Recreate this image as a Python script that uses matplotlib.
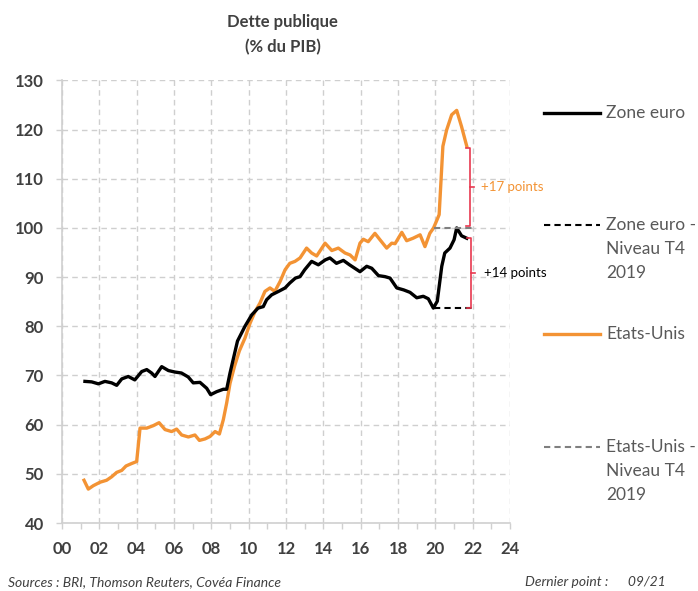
import matplotlib.pyplot as plt
from matplotlib.lines import Line2D
from matplotlib.ticker import MultipleLocator

plt.rcParams['font.family'] = ['Lato', 'DejaVu Sans']

# années (00 = 2000), lecture approx. du graphique
ez_t = [1.23, 1.59, 1.95, 2.3, 2.66, 2.93, 3.2, 3.55, 3.9, 4.27, 4.54, 4.8, 4.98,
        5.34, 5.7, 6.05, 6.4, 6.76, 7.03, 7.39, 7.75, 7.96, 8.28, 8.64, 8.82, 9.0,
        9.4, 9.8, 10.16, 10.5, 10.78, 10.96, 11.23, 11.6, 11.95, 12.2, 12.5, 12.75,
        13.0, 13.37, 13.73, 14.1, 14.35, 14.7, 15.07, 15.4, 15.96, 16.32, 16.59,
        16.95, 17.3, 17.57, 17.93, 18.3, 18.64, 19.0, 19.35, 19.62, 19.89, 20.1,
        20.34, 20.5, 20.78, 21.0, 21.14, 21.4, 21.68]
ez_v = [68.8, 68.7, 68.3, 68.8, 68.5, 68.0, 69.3, 69.8, 69.1, 70.8, 71.2, 70.5, 69.8,
        71.8, 71.0, 70.7, 70.5, 69.7, 68.5, 68.6, 67.4, 66.1, 66.7, 67.2, 67.2, 70.5,
        77.0, 80.0, 82.3, 83.7, 84.0, 85.4, 86.4, 87.1, 87.8, 88.8, 89.8, 90.1,
        91.5, 93.2, 92.5, 93.5, 93.9, 92.8, 93.4, 92.5, 91.1, 92.2, 91.8,
        90.3, 90.1, 89.8, 87.8, 87.4, 86.9, 85.8, 86.1, 85.6, 83.7, 85.1,
        92.2, 94.9, 95.9, 97.6, 100.0, 98.4, 97.9]

us_t = [1.18, 1.41, 1.68, 2.04, 2.39, 2.66, 2.93, 3.2, 3.43, 3.73, 4.0, 4.18, 4.54,
        4.89, 5.2, 5.52, 5.87, 6.14, 6.41, 6.77, 7.12, 7.36, 7.66, 7.93, 8.2, 8.43,
        8.64, 8.82, 9.0, 9.25, 9.5, 9.8, 10.07, 10.34, 10.6, 10.87, 11.14, 11.4,
        11.68, 11.95, 12.2, 12.48, 12.75, 13.1, 13.37, 13.64, 14.09, 14.45, 14.8,
        15.16, 15.43, 15.7, 15.96, 16.14, 16.4, 16.76, 17.03, 17.39, 17.66, 17.84,
        18.2, 18.46, 18.8, 19.18, 19.44, 19.7, 19.9, 20.07, 20.2, 20.4, 20.6, 20.87,
        21.14, 21.4, 21.68]
us_v = [48.7, 46.9, 47.6, 48.3, 48.7, 49.4, 50.3, 50.7, 51.6, 52.1, 52.5, 59.3, 59.3,
        59.8, 60.4, 59.0, 58.6, 59.1, 57.9, 57.5, 57.9, 56.8, 57.1, 57.6, 58.6, 58.1,
        61.0, 64.4, 68.4, 72.0, 75.0, 77.6, 80.6, 83.0, 84.7, 87.1, 87.8, 87.1,
        89.1, 91.5, 92.8, 93.2, 93.9, 95.9, 94.9, 94.3, 96.9, 95.4, 95.9,
        94.9, 94.5, 93.5, 96.9, 97.7, 97.2, 98.9, 97.6, 95.9, 96.9, 96.8,
        99.1, 97.4, 97.9, 98.6, 96.2, 98.9, 100.0, 101.5, 102.7, 116.6, 119.9, 123.0,
        123.9, 120.6, 116.6]

ref_t = [19.9, 22.0]          # niveau T4 2019
ez_ref = 83.7
us_ref = 100.0

xticks = list(range(0, 25, 2))
xlabels = ['%02d' % t for t in xticks]

ORANGE = '#F39334'
RED = '#E8384F'
TXT = '#404040'
LEG = '#595959'

fig = plt.figure(figsize=(6.98, 5.91), dpi=100)
ax = fig.add_axes([0.0888, 0.115, 0.642, 0.749])

ax.plot(ez_t, ez_v, color='black', lw=2.4, solid_joinstyle='round', zorder=4)
ax.plot(us_t, us_v, color=ORANGE, lw=2.4, solid_joinstyle='round', zorder=3)
ax.plot(ref_t, [ez_ref, ez_ref], color='black', lw=1.5, ls=(0, (3, 2)), zorder=4)
ax.plot(ref_t, [us_ref, us_ref], color='#7f7f7f', lw=1.5, ls=(0, (3, 2)), zorder=4)

# accolades rouges
def bracket(x, lo, hi, w=0.2):
    mid = (lo + hi) / 2
    ax.plot([x - w, x, x, x - w], [hi, hi, lo, lo], color=RED, lw=1.2, clip_on=False, zorder=5)
    ax.plot([x, x + w], [mid, mid], color=RED, lw=1.2, clip_on=False, zorder=5)
    return mid

m1 = bracket(21.85, us_ref + 0.3, us_v[-1] - 0.3)
m2 = bracket(21.9, ez_ref, ez_v[-1])
ax.text(22.45, m1, '+%d points' % round(us_v[-1] - us_ref), color=ORANGE,
        fontsize=9.5, va='center', ha='left', clip_on=False)
ax.text(22.6, m2, '+%d points' % round(ez_v[-1] - ez_ref), color='black',
        fontsize=9.5, va='center', ha='left', clip_on=False)

ax.set_xlim(0, 24)
ax.set_ylim(40, 130)
ax.set_xticks(xticks)
ax.set_xticklabels(xlabels)
ax.xaxis.set_minor_locator(MultipleLocator(1))
ax.set_yticks(range(40, 131, 10))
ax.grid(True, which='major', color='#cfcfcf', ls=(0, (4, 3)), lw=1.0)
ax.set_axisbelow(True)
for s in ['top', 'right']:
    ax.spines[s].set_visible(False)
for s in ['left', 'bottom']:
    ax.spines[s].set_color('#d0d0d0')
    ax.spines[s].set_linewidth(1.2)
ax.tick_params(which='both', colors='#d0d0d0', length=4, width=1.0)
ax.tick_params(axis='both', labelcolor=TXT, labelsize=12)
ax.tick_params(axis='x', pad=9)
ax.tick_params(axis='y', pad=9)
for lab in ax.get_xticklabels() + ax.get_yticklabels():
    lab.set_fontweight('bold')

fig.text(0.405, 0.963, 'Dette publique', ha='center', va='center',
         fontsize=12, fontweight='bold', color=TXT)
fig.text(0.405, 0.921, '(% du PIB)', ha='center', va='center',
         fontsize=12, fontweight='bold', color=TXT)

# légende manuelle
leg = [
    (113, ['Zone euro'], 'black', '-'),
    (225, ['Zone euro -', 'Niveau T4', '2019'], 'black', (0, (3, 2))),
    (334, ['Etats-Unis'], ORANGE, '-'),
    (447, ['Etats-Unis -', 'Niveau T4', '2019'], '#7f7f7f', (0, (3, 2))),
]
W, H = 698, 591
for y, lines, col, ls in leg:
    lw = 2.4 if ls == '-' else 1.5
    fig.add_artist(Line2D([544 / W, 600 / W], [1 - y / H, 1 - y / H], color=col, lw=lw, ls=ls))
    for i, t in enumerate(lines):
        fig.text(606 / W, 1 - (y + i * 24) / H, t, ha='left', va='center',
                 fontsize=12.5, color=LEG)

fig.text(8 / W, 1 - 582 / H, 'Sources : BRI, Thomson Reuters, Covéa Finance',
         fontsize=10, style='italic', color=TXT, va='center')
fig.text(525 / W, 1 - 582 / H, 'Dernier point :      09/21',
         fontsize=10, style='italic', color=TXT, va='center')

fig.savefig('out.png', dpi=100)
